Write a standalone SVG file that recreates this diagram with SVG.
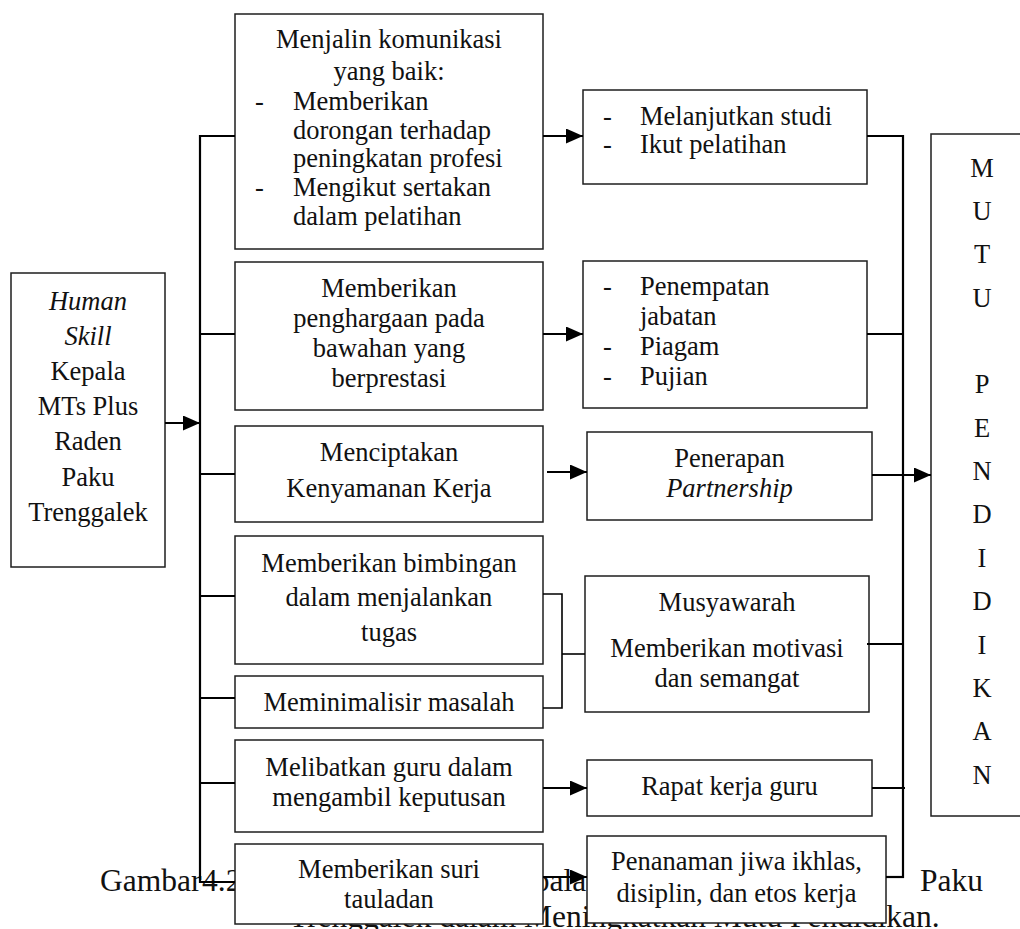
<svg xmlns="http://www.w3.org/2000/svg" width="1020" height="929" viewBox="0 0 1020 929">
  <style>
    .bg { fill: #ffffff; }
    .box { fill: #ffffff; stroke: #1e1e1e; stroke-width: 1.5; }
    .t { font-family: "Liberation Serif", "Times New Roman", serif; font-size: 26.5px; fill: #111111; }
    .c { text-anchor: middle; }
    .i { font-style: italic; }
    .cap { font-family: "Liberation Serif", "Times New Roman", serif; font-size: 31.5px; fill: #111111; }
    .wire { fill: none; stroke: #000000; stroke-width: 2.2; }
    .thin { fill: none; stroke: #000000; stroke-width: 1.6; }
    .arrow { fill: none; stroke: #000000; stroke-width: 2.2; marker-end: url(#head); }
  </style>
  <defs>
    <marker id="head" markerUnits="userSpaceOnUse" markerWidth="17" markerHeight="15" refX="17" refY="7.5" orient="auto">
      <path d="M0,0 L17,7.5 L0,15 Z" fill="#000000"/>
    </marker>
  </defs>

  <rect class="bg" x="0" y="0" width="1020" height="929"/>

  <!-- figure caption, partly hidden behind the lower boxes -->
  <g id="caption">
    <text class="cap" y="891"><tspan x="100">Gambar</tspan><tspan x="202">4.2</tspan><tspan x="497">Kepala</tspan><tspan x="920">Paku</tspan></text>
    <text class="cap" x="289" y="927">Trenggalek dalam Meningkatkan Mutu Pendidikan.</text>
  </g>

  <!-- source node -->
  <g id="human-skill">
    <rect class="box" x="11" y="273" width="154" height="294"/>
    <text class="t c" x="88" y="310"><tspan class="i">Human</tspan></text>
    <text class="t c i" x="88" y="345">Skill</text>
    <text class="t c" x="88" y="380">Kepala</text>
    <text class="t c" x="88" y="415">MTs Plus</text>
    <text class="t c" x="88" y="450">Raden</text>
    <text class="t c" x="88" y="486">Paku</text>
    <text class="t c" x="88" y="521">Trenggalek</text>
  </g>

  <!-- middle column -->
  <g id="komunikasi">
    <rect class="box" x="235" y="14" width="308" height="235"/>
    <text class="t c" x="389" y="48">Menjalin komunikasi</text>
    <text class="t c" x="389" y="80">yang baik:</text>
    <text class="t" x="255" y="110">-</text>
    <text class="t" x="293" y="110">Memberikan</text>
    <text class="t" x="293" y="139">dorongan terhadap</text>
    <text class="t" x="293" y="167">peningkatan profesi</text>
    <text class="t" x="255" y="196">-</text>
    <text class="t" x="293" y="196">Mengikut sertakan</text>
    <text class="t" x="293" y="225">dalam pelatihan</text>
  </g>

  <g id="penghargaan">
    <rect class="box" x="235" y="262" width="308" height="148"/>
    <text class="t c" x="389" y="297">Memberikan</text>
    <text class="t c" x="389" y="327">penghargaan pada</text>
    <text class="t c" x="389" y="357">bawahan yang</text>
    <text class="t c" x="389" y="387">berprestasi</text>
  </g>

  <g id="kenyamanan">
    <rect class="box" x="235" y="426" width="308" height="96"/>
    <text class="t c" x="389" y="461">Menciptakan</text>
    <text class="t c" x="389" y="497">Kenyamanan Kerja</text>
  </g>

  <g id="bimbingan">
    <rect class="box" x="235" y="536" width="308" height="128"/>
    <text class="t c" x="389" y="572">Memberikan bimbingan</text>
    <text class="t c" x="389" y="606">dalam menjalankan</text>
    <text class="t c" x="389" y="641">tugas</text>
  </g>

  <g id="meminimalisir">
    <rect class="box" x="235" y="676" width="308" height="52"/>
    <text class="t c" x="389" y="711">Meminimalisir masalah</text>
  </g>

  <g id="melibatkan">
    <rect class="box" x="235" y="740" width="308" height="92"/>
    <text class="t c" x="389" y="776">Melibatkan guru dalam</text>
    <text class="t c" x="389" y="806">mengambil keputusan</text>
  </g>

  <g id="suri-tauladan">
    <rect class="box" x="235" y="844" width="308" height="80"/>
    <text class="t c" x="389" y="878">Memberikan suri</text>
    <text class="t c" x="389" y="908">tauladan</text>
  </g>

  <!-- right column -->
  <g id="studi">
    <rect class="box" x="583" y="90" width="284" height="94"/>
    <text class="t" x="603" y="125">-</text>
    <text class="t" x="640" y="125">Melanjutkan studi</text>
    <text class="t" x="603" y="153">-</text>
    <text class="t" x="640" y="153">Ikut pelatihan</text>
  </g>

  <g id="jabatan">
    <rect class="box" x="583" y="261" width="284" height="147"/>
    <text class="t" x="603" y="295">-</text>
    <text class="t" x="640" y="295">Penempatan</text>
    <text class="t" x="640" y="325">jabatan</text>
    <text class="t" x="603" y="355">-</text>
    <text class="t" x="640" y="355">Piagam</text>
    <text class="t" x="603" y="385">-</text>
    <text class="t" x="640" y="385">Pujian</text>
  </g>

  <g id="partnership">
    <rect class="box" x="587" y="432" width="285" height="88"/>
    <text class="t c" x="729.5" y="467">Penerapan</text>
    <text class="t c i" x="729.5" y="497">Partnership</text>
  </g>

  <g id="musyawarah">
    <rect class="box" x="585" y="576" width="284" height="136"/>
    <text class="t c" x="727" y="611">Musyawarah</text>
    <text class="t c" x="727" y="657">Memberikan motivasi</text>
    <text class="t c" x="727" y="687">dan semangat</text>
  </g>

  <g id="rapat">
    <rect class="box" x="587" y="760" width="285" height="56"/>
    <text class="t c" x="729.5" y="795">Rapat kerja guru</text>
  </g>

  <g id="penanaman">
    <rect class="box" x="587" y="836" width="299" height="87"/>
    <text class="t c" x="736.5" y="870">Penanaman jiwa ikhlas,</text>
    <text class="t c" x="736.5" y="902">disiplin, dan etos kerja</text>
  </g>

  <!-- target node -->
  <g id="mutu-pendidikan">
    <rect class="box" x="931" y="134" width="100" height="682"/>
    <g class="t c">
      <text x="982" y="177">M</text>
      <text x="982" y="220">U</text>
      <text x="982" y="263">T</text>
      <text x="982" y="307">U</text>
      <text x="982" y="393">P</text>
      <text x="982" y="437">E</text>
      <text x="982" y="480">N</text>
      <text x="982" y="523">D</text>
      <text x="982" y="567">I</text>
      <text x="982" y="610">D</text>
      <text x="982" y="654">I</text>
      <text x="982" y="697">K</text>
      <text x="982" y="740">A</text>
      <text x="982" y="784">N</text>
    </g>
  </g>

  <!-- connectors -->
  <g id="connectors">
    <line class="arrow" x1="165" y1="423" x2="200" y2="423"/>
    <line class="wire" x1="200" y1="135" x2="200" y2="883"/>
    <line class="wire" x1="199" y1="136" x2="235" y2="136"/>
    <line class="wire" x1="200" y1="334" x2="235" y2="334"/>
    <line class="wire" x1="200" y1="474" x2="235" y2="474"/>
    <line class="wire" x1="200" y1="596" x2="235" y2="596"/>
    <line class="wire" x1="200" y1="698" x2="235" y2="698"/>
    <line class="wire" x1="200" y1="783" x2="235" y2="783"/>
    <line class="wire" x1="199" y1="882" x2="235" y2="882"/>

    <line class="arrow" x1="543" y1="136" x2="583" y2="136"/>
    <line class="arrow" x1="543" y1="334" x2="583" y2="334"/>
    <line class="arrow" x1="547" y1="472" x2="587" y2="472"/>
    <line class="arrow" x1="543" y1="788" x2="587" y2="788"/>
    <line class="arrow" x1="543" y1="877" x2="587" y2="877"/>

    <polyline class="thin" points="543,594 562,594 562,708 543,708"/>
    <line class="thin" x1="562" y1="654" x2="585" y2="654"/>

    <line class="wire" x1="867" y1="136" x2="904" y2="136"/>
    <line class="wire" x1="867" y1="334" x2="903" y2="334"/>
    <line class="wire" x1="867" y1="644" x2="903" y2="644"/>
    <line class="wire" x1="872" y1="788" x2="905" y2="788"/>
    <line class="wire" x1="886" y1="877" x2="904" y2="877"/>
    <line class="wire" x1="903" y1="135" x2="903" y2="878"/>
    <line class="arrow" x1="872" y1="475" x2="931" y2="475"/>
  </g>
</svg>
